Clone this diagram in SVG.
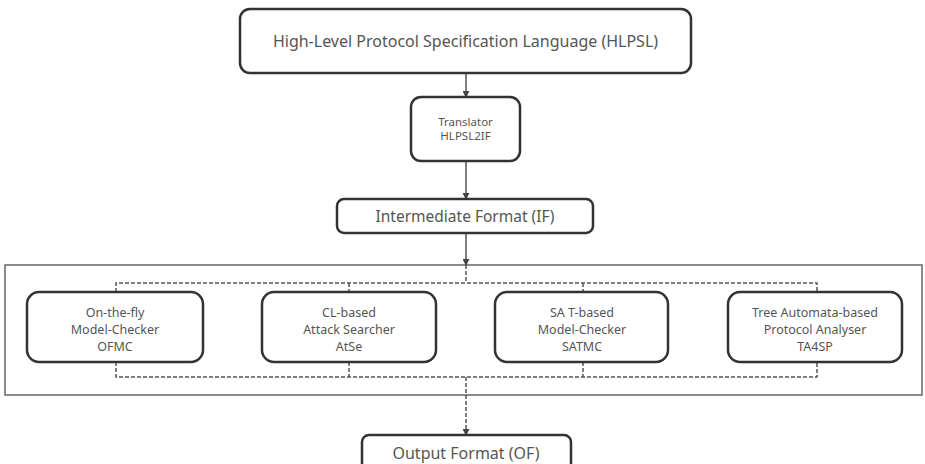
<svg xmlns="http://www.w3.org/2000/svg" width="925" height="464" viewBox="0 0 925 464">
<defs>
<style>
.box{fill:#fff;stroke:#333;stroke-width:2.5}
.cont{fill:#fff;stroke:#666;stroke-width:1.5}
.t{font-family:"Noto Sans","Open Sans","Liberation Sans",sans-serif;fill:#555;text-anchor:middle}
.n{font-size:12.5px}
.solid{stroke:#555;stroke-width:1.5;fill:none}
.dash{stroke:#555;stroke-width:1.5;fill:none;stroke-dasharray:4 2}
</style>
<marker id="ah" viewBox="0 0 8 8" refX="7" refY="4" markerWidth="7" markerHeight="7" markerUnits="userSpaceOnUse" orient="auto">
<path d="M0,0 L8,4 L0,8 z" fill="#444"/>
</marker>
</defs>
<rect width="925" height="464" fill="#fff"/>
<g id="container"><rect class="cont" x="5" y="265" width="917" height="130"/></g>
<g id="connectors">
<line class="solid" x1="466" y1="73" x2="466" y2="97" marker-end="url(#ah)"/>
<line class="solid" x1="466" y1="161" x2="466" y2="199" marker-end="url(#ah)"/>
<line class="solid" x1="466" y1="233" x2="466" y2="265" marker-end="url(#ah)"/>
<line class="dash" x1="466" y1="265" x2="466" y2="283"/>
<polyline class="dash" points="116,292 116,283 817,283 817,292"/>
<line class="dash" x1="349" y1="283" x2="349" y2="292"/>
<line class="dash" x1="583" y1="283" x2="583" y2="292"/>
<polyline class="dash" points="116,362 116,377 817,377 817,362"/>
<line class="dash" x1="349" y1="362" x2="349" y2="377"/>
<line class="dash" x1="583" y1="362" x2="583" y2="377"/>
<line class="dash" x1="466" y1="377" x2="466" y2="435" marker-end="url(#ah)"/>
</g>
<g id="hlpsl"><rect class="box" x="240" y="9" width="451" height="64" rx="10"/><text class="t" x="465.5" y="47" font-size="16">High-Level Protocol Specification Language (HLPSL)</text></g>
<g id="translator"><rect class="box" x="411" y="97" width="109" height="64" rx="10"/><text class="t" x="465.5" y="126" font-size="11.5">Translator</text><text class="t" x="465.5" y="140" font-size="11.5">HLPSL2IF</text></g>
<g id="if"><rect class="box" x="337" y="199" width="256" height="34" rx="7"/><text class="t" x="465" y="221.5" font-size="15.5">Intermediate Format (IF)</text></g>
<g id="ofmc"><rect class="box" x="27" y="292" width="176" height="70" rx="12"/><text class="t n" x="115" y="317">On-the-fly</text><text class="t n" x="115" y="334">Model-Checker</text><text class="t n" x="115" y="350.5">OFMC</text></g>
<g id="atse"><rect class="box" x="262" y="292" width="174" height="70" rx="12"/><text class="t n" x="349" y="317">CL-based</text><text class="t n" x="349" y="334">Attack Searcher</text><text class="t n" x="349" y="350.5">AtSe</text></g>
<g id="satmc"><rect class="box" x="495" y="292" width="173" height="70" rx="12"/><text class="t n" x="582" y="317">SA T-based</text><text class="t n" x="582" y="334">Model-Checker</text><text class="t n" x="582" y="350.5">SATMC</text></g>
<g id="ta4sp"><rect class="box" x="728" y="292" width="174" height="70" rx="12"/><text class="t n" x="815" y="317">Tree Automata-based</text><text class="t n" x="815" y="334">Protocol Analyser</text><text class="t n" x="815" y="350.5">TA4SP</text></g>
<g id="of"><rect class="box" x="362" y="435" width="209" height="40" rx="7"/><text class="t" x="466" y="459" font-size="16">Output Format (OF)</text></g>
</svg>
